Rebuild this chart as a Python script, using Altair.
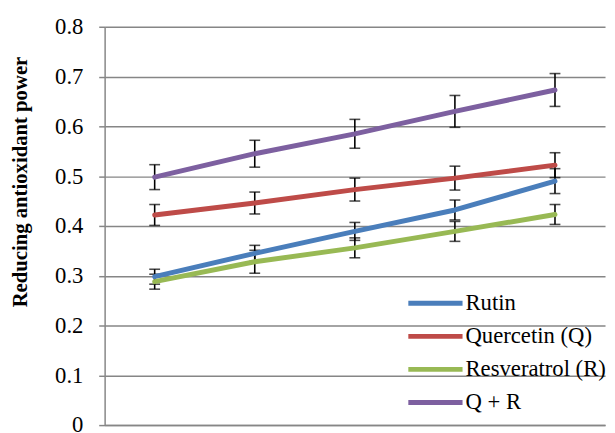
import altair as alt
import pandas as pd

levels = [1, 2, 3, 4, 5]
series = ["Rutin", "Quercetin (Q)", "Resveratrol (R)", "Q + R"]
colors = ["#4a7ebb", "#be4b48", "#98b954", "#7d60a0"]

rutin = [0.298, 0.345, 0.389, 0.432, 0.490]
rutin_err = [0.015, 0.016, 0.018, 0.020, 0.025]
quercetin = [0.422, 0.446, 0.473, 0.496, 0.522]
quercetin_err = [0.021, 0.022, 0.023, 0.024, 0.025]
resveratrol = [0.288, 0.328, 0.356, 0.389, 0.423]
resveratrol_err = [0.015, 0.023, 0.020, 0.020, 0.020]
q_plus_r = [0.498, 0.545, 0.585, 0.630, 0.673]
q_plus_r_err = [0.025, 0.027, 0.029, 0.032, 0.033]

y_ticks = [0, 0.1, 0.2, 0.3, 0.4, 0.5, 0.6, 0.7, 0.8]

rows = []
for name, vals, errs in zip(series,
                            [rutin, quercetin, resveratrol, q_plus_r],
                            [rutin_err, quercetin_err, resveratrol_err, q_plus_r_err]):
    for lv, v, e in zip(levels, vals, errs):
        rows.append(dict(level=lv, series=name, value=v, lo=v - e, hi=v + e))
df = pd.DataFrame(rows)

GRAY = "#868686"
FONT = "Liberation Serif"

x_enc = alt.X("level:Q",
              scale=alt.Scale(domain=[0.5, 5.5], nice=False, zero=False),
              axis=alt.Axis(labels=False, ticks=False, grid=False, domainColor=GRAY,
                            domainWidth=1.5, title=None))
y_scale = alt.Scale(domain=[0, 0.8], nice=False, zero=True)
y_axis = alt.Axis(values=y_ticks,
                  labelExpr="datum.value == 0 ? '0' : format(datum.value, '.1f')",
                  labelFont=FONT, labelFontSize=23, labelColor="black", labelPadding=16,
                  tickSize=6, tickColor=GRAY, tickWidth=1.5,
                  domainColor=GRAY, domainWidth=1.5,
                  grid=True, gridColor=GRAY, gridWidth=1.5,
                  title="Reducing antioxidant power", titleFont=FONT, titleFontSize=21,
                  titleFontWeight="bold", titleColor="black", titleAngle=270,
                  titleX=-79, titleY=157, titleAlign="center", titleBaseline="alphabetic")

base = alt.Chart(df)

rule = base.mark_rule(color="black", strokeWidth=1.6).encode(
    x=x_enc, y=alt.Y("lo:Q", scale=y_scale, axis=y_axis), y2="hi:Q")
cap_lo = base.mark_tick(color="black", orient="horizontal", size=11, thickness=1.6).encode(
    x=x_enc, y=alt.Y("lo:Q", scale=y_scale, axis=y_axis))
cap_hi = base.mark_tick(color="black", orient="horizontal", size=11, thickness=1.6).encode(
    x=x_enc, y=alt.Y("hi:Q", scale=y_scale, axis=y_axis))
line = base.mark_line(strokeWidth=5, strokeCap="round", strokeJoin="round").encode(
    x=x_enc,
    y=alt.Y("value:Q", scale=y_scale, axis=y_axis),
    color=alt.Color("series:N", sort=series,
                    scale=alt.Scale(domain=series, range=colors),
                    legend=alt.Legend(orient="none", legendX=319, legendY=264, title=None,
                                      symbolType="M-2,0H2", symbolSize=756,
                                      symbolStrokeWidth=5, labelFont=FONT,
                                      labelFontSize=23, labelColor="black",
                                      labelOffset=14, rowPadding=4.5, padding=0)))

chart = alt.layer(rule, cap_lo, cap_hi, line).properties(
    width=507.5, height=404,
    autosize=alt.AutoSizeParams(type="none"),
    padding={"left": 98, "top": 16, "right": 2, "bottom": 5},
).configure_view(stroke=None)

chart.save("out.html", embed_options={"renderer": "svg", "actions": False})
